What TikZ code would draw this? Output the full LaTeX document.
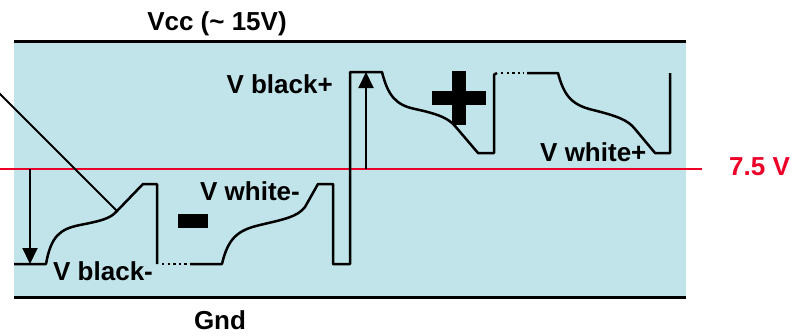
\documentclass[tikz,border=0pt]{standalone}
\usepackage{fontspec}
\setmainfont{Liberation Sans}
\usepackage{tikz}
\usetikzlibrary{arrows.meta, calc}
\definecolor{bandblue}{RGB}{192, 228, 233}
\definecolor{levelred}{RGB}{236, 0, 40}

\tikzset{
    wave/.style={line width=2.5pt, line join=round},
    lbl/.style={inner sep=0pt, font=\fontsize{26}{30}\selectfont\bfseries},
    dots/.style={line width=2.5pt, dash pattern=on 2.4pt off 3.2pt}
}

\begin{document}
\begin{tikzpicture}[x=1pt, y=-1pt, >={Triangle[length=16pt, width=15pt]}]
    \useasboundingbox (0,0) rectangle (800,335);
    % band between Gnd and Vcc
    \fill[bandblue] (14,41) rectangle (686,297);
    \draw[line width=3pt] (14,41) -- (686,41);
    \draw[line width=3pt] (14,297) -- (686,297);
    \node[lbl, anchor=base] (vcc) at (217,30) {Vcc (\textasciitilde{} 15V)};
    \node[lbl, anchor=base] (gnd) at (220,329) {Gnd};

    % mid level
    \draw[levelred, line width=2pt] (0,169) -- (702,169);
    \node[lbl, anchor=base west, text=levelred] (mid) at (729,175) {7.5 V};

    % negative frame
    \draw[wave] (14,264) -- (46,264)
        .. controls (51,236) and (60,229) .. (80,225)
        .. controls (100,221) and (110,219) .. (117,211)
        -- (143,184) -- (157,184) -- (157,264);
    \draw[dots] (162,264) -- (188,264);
    \draw[wave] (190,264) -- (222,264)
        .. controls (228,238) and (238,230) .. (260,225)
        .. controls (285,219) and (297,217) .. (305,207)
        -- (318,184) -- (333,184) -- (333,264) -- (350,264) -- (350,72) -- (382,72)
        .. controls (388,96) and (396,105) .. (415,109)
        .. controls (438,114) and (448,118) .. (455,126)
        -- (478,153) -- (494,153) -- (494,78) .. controls (494,74) .. (497,73);
    % positive frame
    \draw[dots] (501,73) -- (524,73);
    \draw[wave] (527,73) -- (558,73)
        .. controls (564,96) and (572,105) .. (593,110)
        .. controls (617,116) and (628,120) .. (635,129)
        -- (655,153) -- (670,153) -- (670,73);

    % swing arrows
    \coordinate (negtop) at (30,169);
    \coordinate (negbot) at (30,264);
    \draw[->, line width=2pt] (negtop) -- (negbot);
    \coordinate (postop) at (366,72);
    \coordinate (posbot) at (366,169);
    \draw[->, line width=2pt] (posbot) -- (postop);

    % pointer
    \coordinate (ptr) at (-4,90);
    \coordinate (ptrend) at (117,211);
    \draw[line width=2pt] (ptr) -- (ptrend);

    % polarity signs
    \fill (178,214) rectangle (208,228);
    \fill (432,91) rectangle (486,105);
    \fill (452,71) rectangle (466,125);

    \node[lbl, anchor=base east] (blackp) at (333,93) {V black+};
    \node[lbl, anchor=base west] (blackm) at (53,280) {V black-};
    \node[lbl, anchor=base west] (whitem) at (200,200) {V white-};
    \node[lbl, anchor=base west] (whitep) at (540,161) {V white+};
\end{tikzpicture}
\end{document}
